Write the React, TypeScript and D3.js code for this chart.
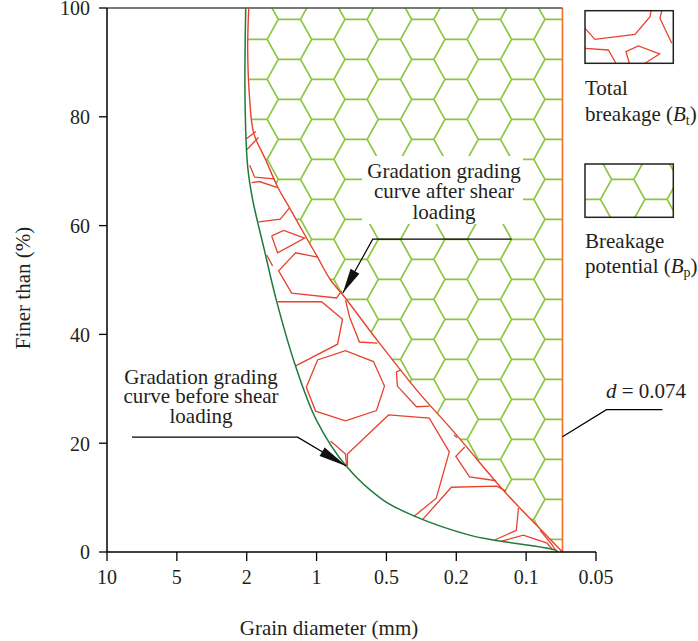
import React from 'react';
import * as d3 from 'd3';

// ---------- data ----------
const xTicks = [10, 5, 2, 1, 0.5, 0.2, 0.1, 0.05];
const xTickLabels = ['10', '5', '2', '1', '0.5', '0.2', '0.1', '0.05'];
const yTicks = [0, 20, 40, 60, 80, 100];
const dLimit = 0.074;

// grading curve before shear loading [diameter mm, finer %]
const beforeCurve: [number, number][] = [
  [2.043, 100], [2.073, 83.1], [1.986, 70.8], [1.914, 64.7], [1.747, 55.5],
  [1.576, 46.3], [1.314, 34.7], [1.004, 24.3], [0.788, 15.8], [0.526, 9.6],
  [0.38, 6.6], [0.181, 3.1], [0.147, 2.2], [0.078, 0.24], [0.078, 0],
];

// grading curve after shear loading
const afterCurve: [number, number][] = [
  [1.971, 100], [1.986, 92.3], [1.957, 83.1], [1.9, 77.0], [1.729, 72.1],
  [1.557, 67.1], [1.371, 62.9], [1.129, 57.4], [0.993, 54.2], [0.9, 50.0],
  [0.807, 47.1], [0.55, 38.4], [0.359, 29.2], [0.217, 22.4], [0.133, 11.4],
  [0.109, 8.1], [0.074, 0],
];

// crushed particle outlines between the two curves
const particleA1: [number, number][] = [[2.03, 75.9], [1.867, 77.3]];
const particleA2: [number, number][] = [[1.996, 74.0], [1.833, 76.2]];
const particleB: [number, number][] = [[1.957, 71.1], [1.886, 68.9], [1.6, 68.6]];
const particleC: [number, number][] = [[1.929, 67.9], [1.819, 68.1], [1.557, 67.0]];
const particleD: [number, number][] = [[1.829, 60.7], [1.519, 61.2], [1.39, 63.2]];
const particleE: [number, number][] = [[1.643, 58.1], [1.471, 59.1], [1.171, 57.7], [1.557, 55.0], [1.643, 58.1]];
const particleF: [number, number][] = [[1.714, 54.6], [1.629, 52.6]];
const particleG: [number, number][] = [[0.993, 54.2], [1.3, 55.0], [1.543, 51.7], [1.357, 47.6], [0.857, 46.7], [0.821, 48.0]];
const particleH: [number, number][] = [[1.557, 46.0], [0.964, 46.0], [0.814, 42.8], [0.85, 38.2], [1.271, 34.4], [1.3, 34.2]];
const particleI: [number, number][] = [[0.793, 46.3], [0.764, 43.2], [0.693, 38.6], [0.564, 38.4]];
const particleJ: [number, number][] = [
  [1.147, 30.3], [0.993, 35.3], [0.793, 37.0], [0.593, 35.0], [0.514, 30.5],
  [0.571, 26.0], [0.793, 24.1], [1.014, 25.9], [1.147, 30.3],
];
const particleS: [number, number][] = [[0.9, 20.4], [0.793, 18.0], [0.786, 16.0]];
const particleL: [number, number][] = [[0.779, 15.8], [0.779, 18.0], [0.491, 25.2], [0.316, 24.6], [0.23, 18.4], [0.286, 9.9], [0.38, 6.6]];
const particleM: [number, number][] = [[0.346, 5.9], [0.221, 11.9], [0.142, 12.1], [0.129, 11.2]];
const particleO: [number, number][] = [[0.436, 33.5], [0.457, 33.1], [0.453, 30.5], [0.371, 26.7], [0.316, 26.8]];
const particleT: [number, number][] = [[0.209, 21.5], [0.199, 21.0]];
const particleP: [number, number][] = [[0.188, 19.3], [0.202, 17.6], [0.181, 13.8], [0.143, 13.1]];
const particleQ: [number, number][] = [[0.145, 2.2], [0.114, 4.0], [0.111, 8.1]];
const particleR: [number, number][] = [[0.135, 2.0], [0.104, 3.1], [0.085, 1.65], [0.081, 0.37]];
const particleU: [number, number][] = [[0.09, 4.0], [0.0814, 1.3], [0.079, 0.37]];
const particles = [
  particleA1, particleA2, particleB, particleC, particleD, particleE, particleF,
  particleG, particleH, particleI, particleJ, particleS, particleL, particleM,
  particleO, particleT, particleP, particleQ, particleR, particleU,
];

// annotation anchors [diameter, finer %]
const beforeArrow: [number, number][] = [[8.21, 21.1], [1.271, 21.1], [0.788, 15.8]];
const afterArrow: [number, number][] = [[0.121, 57.5], [0.598, 57.5], [0.812, 47.6]];
const beforeLabel = ['Gradation grading', 'curve before shear', 'loading'];
const afterLabel = ['Gradation grading', 'curve after shear', 'loading'];

// legend swatch (total breakage) in box-relative fractions
const legendRedLines: [number, number][][] = [
  [[0, 0.335], [0.113, 0.544], [0.566, 0.449], [0.736, 0.114], [0.747, 0.006]],
  [[0.869, 0.006], [0.849, 0.144], [0.982, 0.62]],
  [[0, 0.715], [0.264, 0.747], [0.351, 1]],
  [[0.502, 1], [0.464, 0.779], [0.604, 0.671], [0.845, 0.823], [0.679, 1]],
];

// ---------- styling ----------
const W = 698, H = 641;
const M = { left: 107, right: 596, top: 8, bottom: 552 };
const RED = '#e8412c';
const HEX = '#8cc63f';
const GREEN = '#1e7b3c';
const ORANGE = '#f26f21';
const INK = '#231f20';
const FONT = '"Liberation Serif", "DejaVu Serif", serif';
const FS = 21;

function hexPath(x0: number, y0: number, s: number, hh: number, xmin: number, xmax: number, ymin: number, ymax: number) {
  let d = '';
  const period = 3 * s;
  for (let k = Math.floor((ymin - y0) / hh) - 2; y0 + k * hh <= ymax + hh; k++) {
    const y = y0 + k * hh;
    const off = (((k % 2) + 2) % 2) * 1.5 * s;
    let a = x0 + off - Math.ceil((x0 + off - xmin) / period + 1) * period;
    for (; a <= xmax + period; a += period) {
      d += `M${a},${y}L${a + s},${y}`;
      d += `M${a},${y}L${a - s / 2},${y + hh}`;
      d += `M${a + s},${y}L${a + 1.5 * s},${y + hh}`;
    }
  }
  return d;
}

function arrowHead(from: [number, number], tip: [number, number], len: number, half: number) {
  const dx = tip[0] - from[0], dy = tip[1] - from[1];
  const L = Math.hypot(dx, dy);
  const ux = dx / L, uy = dy / L;
  const bx = tip[0] - ux * len, by = tip[1] - uy * len;
  return `M${tip[0]},${tip[1]}L${bx - uy * half},${by + ux * half}L${bx + uy * half},${by - ux * half}Z`;
}

export default function App() {
  const step = (M.right - M.left) / (xTicks.length - 1);
  const x = d3.scaleLinear().domain(xTicks).range(xTicks.map((_, i) => M.left + i * step));
  const y = d3.scaleLinear().domain([0, 100]).range([M.bottom, M.top]);

  const curve = d3.line<[number, number]>().x(d => x(d[0])).y(d => y(d[1])).curve(d3.curveCatmullRom.alpha(0.5));
  const poly = d3.line<[number, number]>().x(d => x(d[0])).y(d => y(d[1]));

  const xd = x(dLimit);
  const clipD = curve(afterCurve) + `L${xd},${y(0)}L${xd},${y(100)}Z`;

  const hexD = hexPath(278.3, 19.3, 22.22, 20, 0, W, -20, H);

  const bA = beforeArrow.map(p => [x(p[0]), y(p[1])] as [number, number]);
  const aA = afterArrow.map(p => [x(p[0]), y(p[1])] as [number, number]);

  const dAnchor: [number, number] = [xd, y(21.2)];

  const lg1 = { x: 585, y: 10.7, w: 88.3, h: 52.6 };
  const lg2 = { x: 585, y: 164, w: 88.3, h: 53.3 };

  return (
    <svg width={W} height={H} style={{ position: 'absolute', left: 0, top: 0, background: '#fff' }}
      fontFamily={FONT} fill={INK}>
      <defs>
        <clipPath id="hexclip"><path d={clipD} /></clipPath>
        <clipPath id="lg2clip"><rect x={lg2.x} y={lg2.y} width={lg2.w} height={lg2.h} /></clipPath>
        <clipPath id="lg1clip"><rect x={lg1.x} y={lg1.y} width={lg1.w} height={lg1.h} /></clipPath>
      </defs>

      {/* breakage potential hexes */}
      <path d={hexD} clipPath="url(#hexclip)" stroke={HEX} strokeWidth={1.7} fill="none" />
      {/* white background behind label */}
      <rect x={362} y={156} width={161} height={68} fill="#fff" />

      {/* crushed particles */}
      {particles.map((p, i) => (
        <path key={i} d={poly(p) || ''} stroke={RED} strokeWidth={1.3} fill="none" strokeLinejoin="miter" />
      ))}

      {/* limit line */}
      <line x1={xd} x2={xd} y1={y(0)} y2={y(100)} stroke={ORANGE} strokeWidth={1.6} />
      {/* top border */}
      <line x1={x(10)} x2={xd} y1={y(100)} y2={y(100)} stroke="#4d4d4d" strokeWidth={1.6} />

      {/* curves */}
      <path d={curve(beforeCurve) || ''} stroke={GREEN} strokeWidth={1.5} fill="none" />
      <path d={curve(afterCurve) || ''} stroke={RED} strokeWidth={1.4} fill="none" />

      {/* axes */}
      <line x1={M.left} x2={M.left} y1={M.top} y2={M.bottom} stroke="#000" strokeWidth={1.5} />
      <line x1={M.left} x2={M.right} y1={M.bottom} y2={M.bottom} stroke="#000" strokeWidth={1.5} />
      {yTicks.map(t => (
        <g key={t}>
          <line x1={M.left - 8} x2={M.left} y1={y(t)} y2={y(t)} stroke="#000" strokeWidth={1.3} />
          <text x={M.left - 17} y={y(t)} dy="0.37em" textAnchor="end" fontSize={20}>{t}</text>
        </g>
      ))}
      {xTicks.map((t, i) => (
        <g key={t}>
          <line x1={x(t)} x2={x(t)} y1={M.bottom} y2={M.bottom + 9} stroke="#000" strokeWidth={1.3} />
          <text x={x(t)} y={584} textAnchor="middle" fontSize={20}>{xTickLabels[i]}</text>
        </g>
      ))}
      <text x={329} y={635} textAnchor="middle" fontSize={FS}>Grain diameter (mm)</text>
      <text transform={`translate(30,288) rotate(-90)`} textAnchor="middle" fontSize={FS}>Finer than (%)</text>

      {/* before annotation */}
      <path d={`M${bA[0][0]},${bA[0][1]}L${bA[1][0]},${bA[1][1]}L${bA[2][0]},${bA[2][1]}`} stroke="#000" strokeWidth={1.2} fill="none" />
      <path d={arrowHead(bA[1], bA[2], 28, 5)} fill="#111" />
      {beforeLabel.map((s, i) => (
        <text key={i} x={201} y={383.5 + i * 19.7} textAnchor="middle" fontSize={FS}>{s}</text>
      ))}

      {/* after annotation */}
      <path d={`M${aA[0][0]},${aA[0][1]}L${aA[1][0]},${aA[1][1]}L${aA[2][0]},${aA[2][1]}`} stroke="#000" strokeWidth={1.2} fill="none" />
      <path d={arrowHead(aA[1], aA[2], 25, 5)} fill="#111" />
      {afterLabel.map((s, i) => (
        <text key={i} x={444} y={177.5 + i * 20.5} textAnchor="middle" fontSize={FS}>{s}</text>
      ))}

      {/* d = 0.074 */}
      <path d={`M${dAnchor[0]},${dAnchor[1]}L${dAnchor[0] + 44},${dAnchor[1] - 27}L${dAnchor[0] + 100},${dAnchor[1] - 27}`} stroke="#000" strokeWidth={1.2} fill="none" />
      <text x={606} y={398} fontSize={FS}><tspan fontStyle="italic">d</tspan> = 0.074</text>

      {/* legend */}
      <g clipPath="url(#lg1clip)">
        {legendRedLines.map((l, i) => (
          <path key={i} d={'M' + l.map(p => `${lg1.x + p[0] * lg1.w},${lg1.y + p[1] * lg1.h}`).join('L')} stroke={RED} strokeWidth={1.3} fill="none" />
        ))}
      </g>
      <rect x={lg1.x} y={lg1.y} width={lg1.w} height={lg1.h} fill="none" stroke="#222" strokeWidth={1.5} />
      <text x={585} y={95} fontSize={FS}>Total</text>
      <text x={585} y={121} fontSize={FS}>breakage (<tspan fontStyle="italic">B</tspan><tspan fontSize={14} dy={4}>t</tspan><tspan dy={-4}>)</tspan></text>

      <path d={hexD} clipPath="url(#lg2clip)" stroke={HEX} strokeWidth={1.7} fill="none" />
      <rect x={lg2.x} y={lg2.y} width={lg2.w} height={lg2.h} fill="none" stroke="#222" strokeWidth={1.5} />
      <text x={585} y={248} fontSize={FS}>Breakage</text>
      <text x={585} y={273} fontSize={FS}>potential (<tspan fontStyle="italic">B</tspan><tspan fontSize={14} dy={4}>p</tspan><tspan dy={-4}>)</tspan></text>
    </svg>
  );
}
